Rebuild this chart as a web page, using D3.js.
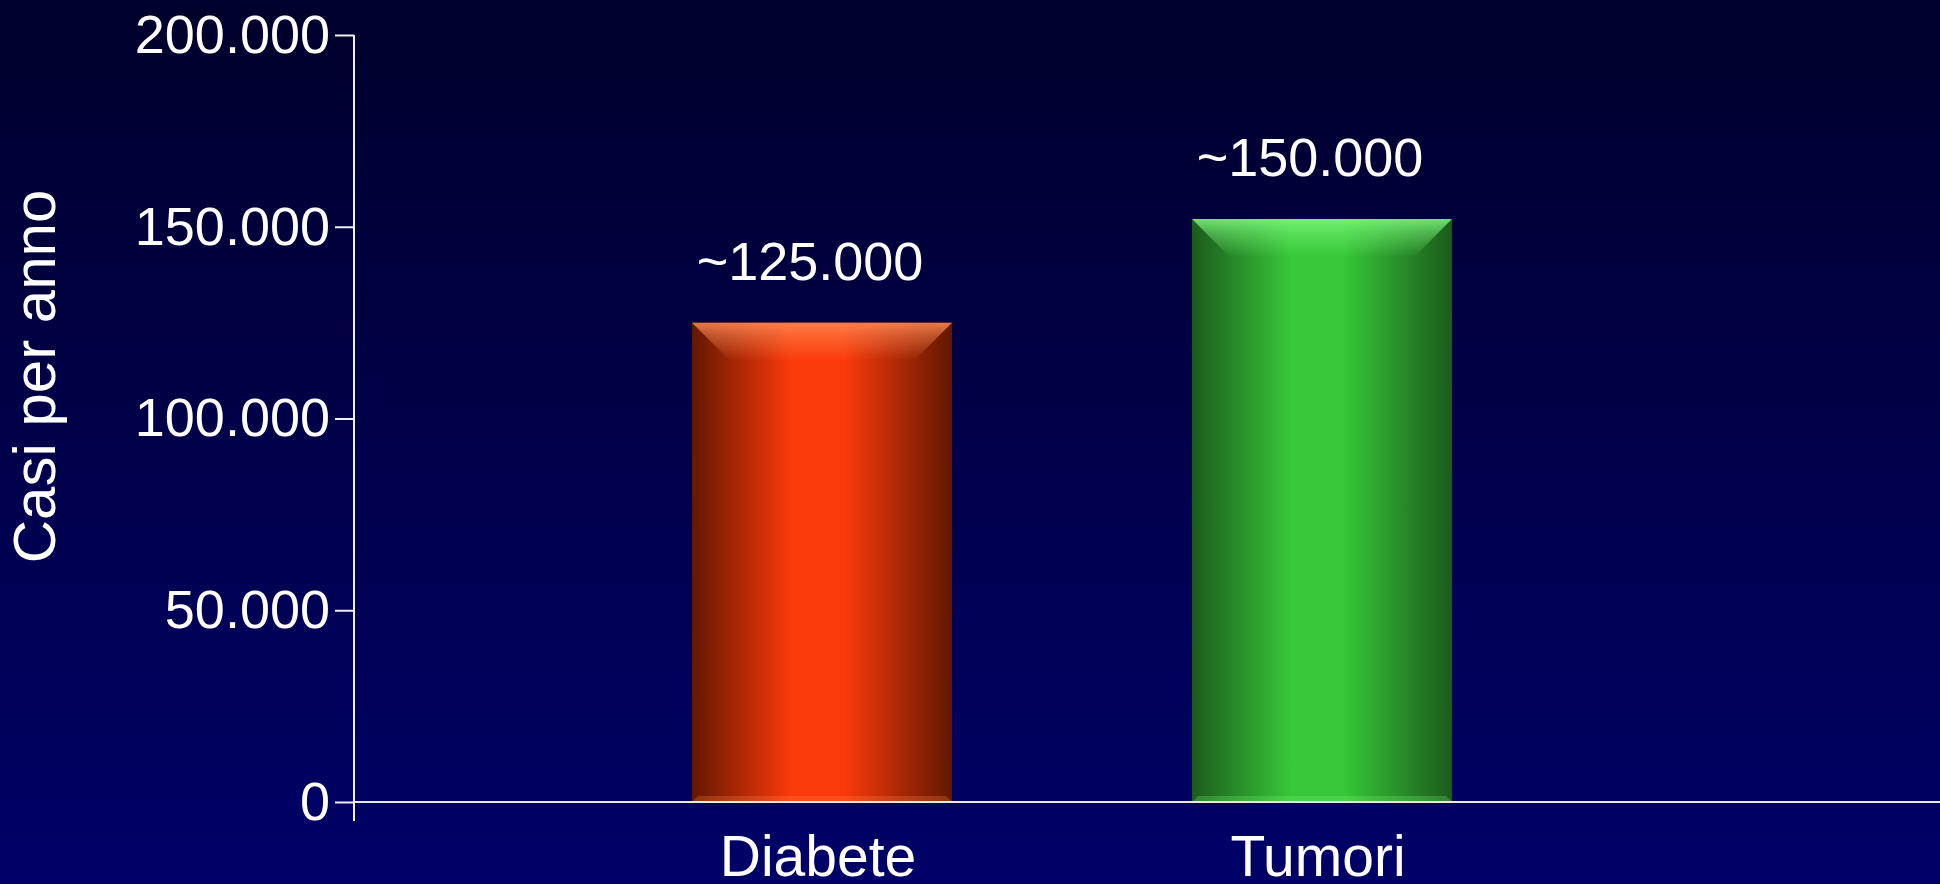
<!DOCTYPE html>
<html>
<head>
<meta charset="utf-8">
<script src="https://cdn.jsdelivr.net/npm/d3@7"></script>
<style>
  html, body { margin: 0; padding: 0; background: #000050; }
  svg { display: block; font-family: "Liberation Sans", Arial, sans-serif; }
</style>
</head>
<body>
<div class="chart"></div>
<script>
// --- Data ---
const categories = ["Diabete", "Tumori"];
const values = [125000, 152000];
const valueLabels = ["~125.000", "~150.000"];
const yTicks = [0, 50000, 100000, 150000, 200000];
const barColors = [
  { edge: "#621700", mid: "#fb3a0a", top: "#ff8a55" },
  { edge: "#1c5a1c", mid: "#36c838", top: "#7cf87c" }
];

// --- Config ---
const width = 1940, height = 884;
const margin = { top: 35, left: 354, bottom: 82 };
const tick = 19;

const it = d3.formatLocale({ decimal: ",", thousands: ".", grouping: [3], currency: ["", ""] });
const fmt = it.format(",");

const svg = d3.select(".chart").append("svg")
  .attr("width", width)
  .attr("height", height);

const defs = svg.append("defs");

// background
const bg = defs.append("linearGradient").attr("id", "bg")
  .attr("x1", 0).attr("y1", 0).attr("x2", 0).attr("y2", 1);
bg.append("stop").attr("offset", "0%").attr("stop-color", "#00002c");
bg.append("stop").attr("offset", "100%").attr("stop-color", "#000068");
svg.append("rect").attr("width", width).attr("height", height).attr("fill", "url(#bg)");

// --- Scales ---
const y = d3.scaleLinear().domain([0, 200000]).range([height - margin.bottom, margin.top]);
const x = d3.scaleBand().domain(categories)
  .range([margin.left, 1790])
  .paddingInner(0.48)
  .paddingOuter(0.676);

// bar gradients
barColors.forEach((c, i) => {
  const g = defs.append("linearGradient").attr("id", "bar" + i)
    .attr("x1", 0).attr("y1", 0).attr("x2", 1).attr("y2", 0);
  g.append("stop").attr("offset", "0%").attr("stop-color", c.edge);
  g.append("stop").attr("offset", "38%").attr("stop-color", c.mid);
  g.append("stop").attr("offset", "58%").attr("stop-color", c.mid);
  g.append("stop").attr("offset", "100%").attr("stop-color", c.edge);
  const t = defs.append("linearGradient").attr("id", "bev" + i)
    .attr("x1", 0).attr("y1", 0).attr("x2", 0).attr("y2", 1);
  t.append("stop").attr("offset", "0%").attr("stop-color", c.top).attr("stop-opacity", 0.85);
  t.append("stop").attr("offset", "35%").attr("stop-color", c.top).attr("stop-opacity", 0.5);
  t.append("stop").attr("offset", "100%").attr("stop-color", c.top).attr("stop-opacity", 0.0);
});

const data = categories.map((c, i) => ({ cat: c, value: values[i], label: valueLabels[i], i }));
const bev = 38;

// --- Bars ---
const bars = svg.selectAll(".bar").data(data).enter().append("g").attr("class", "bar");

bars.append("rect")
  .attr("x", d => x(d.cat))
  .attr("y", d => y(d.value))
  .attr("width", x.bandwidth())
  .attr("height", d => y(0) - y(d.value))
  .attr("fill", d => `url(#bar${d.i})`);

// top bevel
bars.append("polygon")
  .attr("points", d => {
    const x0 = x(d.cat), x1 = x0 + x.bandwidth(), t = y(d.value);
    return [[x0, t], [x1, t], [x1 - bev, t + bev], [x0 + bev, t + bev]].join(" ");
  })
  .attr("fill", d => `url(#bev${d.i})`);

// bottom bevel shade
bars.append("polygon")
  .attr("points", d => {
    const x0 = x(d.cat), x1 = x0 + x.bandwidth(), b = y(0);
    return [[x0, b], [x1, b], [x1 - 6, b - 6], [x0 + 6, b - 6]].join(" ");
  })
  .attr("fill", d => barColors[d.i].top)
  .attr("opacity", 0.25);

// value labels
svg.selectAll(".valueLabel").data(data).enter().append("text")
  .attr("class", "valueLabel")
  .attr("x", d => x(d.cat) + x.bandwidth() / 2 - 12)
  .attr("y", d => y(d.value) - 43)
  .attr("text-anchor", "middle")
  .attr("fill", "#fff")
  .style("font-size", "54px")
  .text(d => d.label);

// --- Axes ---
const yAxis = d3.axisLeft(y)
  .tickValues(yTicks)
  .tickSize(tick)
  .tickPadding(5)
  .tickFormat(d => fmt(d));

const gy = svg.append("g")
  .attr("transform", `translate(${margin.left},0)`)
  .call(yAxis);
gy.select(".domain").remove();
gy.selectAll("line").attr("stroke", "#f0f0f0").attr("stroke-width", 2);
gy.selectAll("text").attr("fill", "#fff").style("font-size", "54px")
  .style("font-family", "'Liberation Sans', Arial, sans-serif");

svg.append("line")
  .attr("x1", margin.left).attr("x2", margin.left)
  .attr("y1", y.range()[1]).attr("y2", y.range()[0] + tick)
  .attr("stroke", "#f0f0f0").attr("stroke-width", 2);

svg.append("line")
  .attr("x1", margin.left).attr("x2", width)
  .attr("y1", y(0)).attr("y2", y(0))
  .attr("stroke", "#e8e8e8").attr("stroke-width", 2);

// category labels
svg.selectAll(".catLabel").data(data).enter().append("text")
  .attr("class", "catLabel")
  .attr("x", d => x(d.cat) + x.bandwidth() / 2 - 4)
  .attr("y", y(0) + 74)
  .attr("text-anchor", "middle")
  .attr("fill", "#fff")
  .style("font-size", "57px")
  .text(d => d.cat);

// y title
svg.append("text")
  .attr("transform", `translate(55,${(y.range()[0] + y.range()[1]) / 2 - 42}) rotate(-90)`)
  .attr("text-anchor", "middle")
  .attr("fill", "#fff")
  .style("font-size", "60px")
  .text("Casi per anno");
</script>
</body>
</html>
